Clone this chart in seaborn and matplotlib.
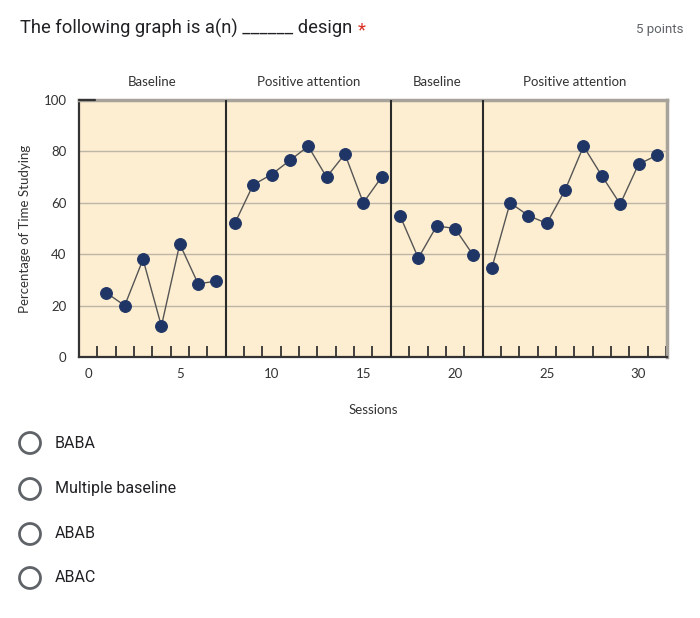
import matplotlib
matplotlib.use("Agg")
import matplotlib.pyplot as plt
from matplotlib.patches import Circle
import seaborn as sns
import pandas as pd
import numpy as np

# ---- data ----
sessions = list(range(1, 32))
values = [25, 20, 38, 12, 44, 28.5, 29.5,
          52, 67, 71, 76.5, 82, 70, 79, 60, 70,
          55, 38.5, 51, 50, 39.5,
          34.5, 60, 55, 52, 65, 82, 70.5, 59.5, 75, 78.5]
phase_ids = [0]*7 + [1]*9 + [2]*5 + [3]*10
phase_names = ["Baseline", "Positive attention", "Baseline", "Positive attention"]
phase_bounds = [7.5, 16.5, 21.5]
x_ticklabels = [0, 5, 10, 15, 20, 25, 30]
y_ticks = [0, 20, 40, 60, 80, 100]
question = "The following graph is a(n) ______ design"
points_text = "5 points"
options = ["BABA", "Multiple baseline", "ABAB", "ABAC"]

df = pd.DataFrame({"Session": sessions, "Value": values, "Phase": phase_ids})

sns.set_theme(style="white")
plt.rcParams['font.family'] = ['Lato', 'DejaVu Sans']

W, H = 700, 618
fig = plt.figure(figsize=(W/100, H/100), dpi=100)
fig.patch.set_facecolor("white")

# background overlay axes in pixel coordinates
bg = fig.add_axes([0, 0, 1, 1], zorder=-5)
bg.set_xlim(0, W); bg.set_ylim(H, 0); bg.axis("off")

ax = fig.add_axes([79/W, 1-357/H, (667-79)/W, (357-100)/H])
ax.set_facecolor("#fdeed1")

for p in range(4):
    sub = df[df["Phase"] == p]
    sns.lineplot(data=sub, x="Session", y="Value", ax=ax, color="#555555",
                 linewidth=1.0, marker="o", markersize=8.5,
                 markerfacecolor="#1f3566", markeredgecolor="#1f3566",
                 estimator=None, legend=False, zorder=4)

xl = (-0.49, 31.55)
ax.set_xlim(*xl)
ax.set_ylim(0, 100)
for yv in [20, 40, 60, 80]:
    ax.axhline(yv, color="#bdb5a6", linewidth=1.0, zorder=1)
for xb in phase_bounds:
    ax.axvline(xb, color="#2a2a2a", linewidth=1.5, zorder=3)

ax.set_yticks(y_ticks)
ax.set_yticklabels([str(v) for v in y_ticks], fontsize=9.5, color="#333333")
ax.set_xticks(x_ticklabels)
ax.set_xticklabels([str(v) for v in x_ticklabels], fontsize=9.5, color="#333333")
ax.set_xticks(np.arange(0.5, 31.6, 1.0), minor=True)
ax.tick_params(axis="x", which="major", length=0, pad=8)
ax.tick_params(axis="x", which="minor", direction="in", length=8, width=1.3, color="#333333", bottom=True)
ax.tick_params(axis="y", which="major", direction="in", length=0, pad=9)
ax.set_xlabel("Sessions", fontsize=9.5, color="#333333", labelpad=17)
ax.set_ylabel("Percentage of Time Studying", fontsize=9.5, color="#333333", labelpad=9)

for s in ["left", "bottom"]:
    ax.spines[s].set_color("#333333"); ax.spines[s].set_linewidth(1.6)
for s in ["top", "right"]:
    ax.spines[s].set_color("#a8a39a"); ax.spines[s].set_linewidth(2.5)
ax.plot([xl[0], 0.4], [100, 100], color="#333333", linewidth=1.6, clip_on=False, zorder=5)

# phase labels
centers = [(xl[0] + phase_bounds[0]) / 2,
           (phase_bounds[0] + phase_bounds[1]) / 2,
           (phase_bounds[1] + phase_bounds[2]) / 2,
           (phase_bounds[2] + xl[1]) / 2]
for c, name in zip(centers, phase_names):
    ax.text(c, 104.5, name, ha="center", va="bottom", fontsize=9.5, color="#333333")

# header
hdr = bg.text(20, 28, question, fontsize=13.2, family=["Roboto", "DejaVu Sans"], color="#202124",
              ha="left", va="center")
fig.canvas.draw()
bb = hdr.get_window_extent(renderer=fig.canvas.get_renderer())
x_end = bb.x1
bg.text(x_end + 5, 30, "*", fontsize=13.2, family=["Roboto", "DejaVu Sans"], color="#d93025",
        ha="left", va="center")
bg.text(683, 29, points_text, fontsize=9.5, family=["Roboto", "DejaVu Sans"], color="#5f6368",
        ha="right", va="center")

# options
opt_y = [443, 489, 534, 578]
for yy, txt in zip(opt_y, options):
    bg.add_patch(Circle((30, yy), 10.5, fill=False, edgecolor="#5f6368", linewidth=2))
    bg.text(55, yy, txt, fontsize=11.5, family=["Roboto", "DejaVu Sans"], color="#202124",
            ha="left", va="center")

fig.savefig("out.png", dpi=100)
